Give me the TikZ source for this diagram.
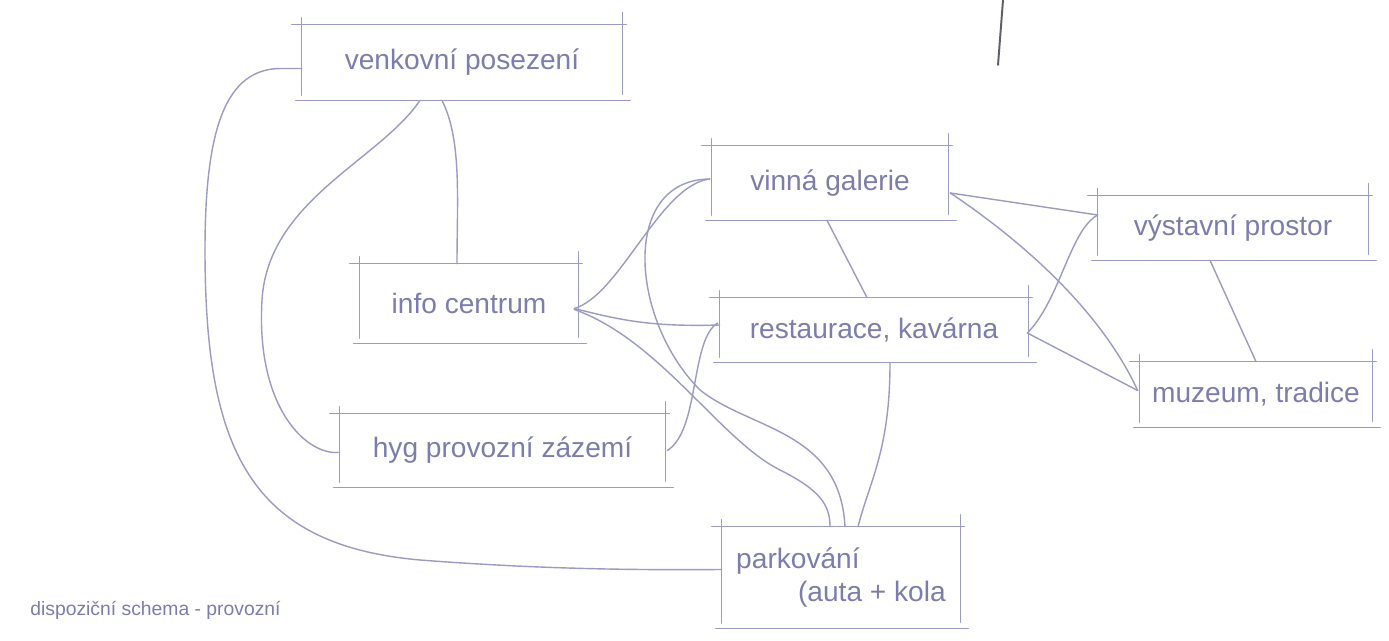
\documentclass[tikz,border=0pt]{standalone}
\usepackage{fontspec}
\setmainfont{Liberation Sans}
\usetikzlibrary{calc}
\definecolor{skl}{RGB}{155,155,196}
\definecolor{skt}{RGB}{125,125,172}
\definecolor{pen}{RGB}{95,95,105}
\tikzset{
  skline/.style={draw=skl, line width=0.8pt, line cap=round},
  skbox/.style={draw=none, inner sep=0pt, text=skt, font=\fontsize{16}{19}\selectfont},
  caption/.style={text=skt, font=\fontsize{11}{13}\selectfont, inner sep=0pt, anchor=west}
}
\newcommand\sketchrect[1]{%
  \draw[skline] ($(#1.north west)+(-10,0)$) -- ($(#1.north east)+(4,0)$);
  \draw[skline] ($(#1.south west)+(-6,0)$) -- ($(#1.south east)+(8,0)$);
  \draw[skline] ($(#1.north west)+(0,-7)$) -- ($(#1.south west)+(0,-5)$);
  \draw[skline] ($(#1.north east)+(0,-12)$) -- ($(#1.south east)+(0,-6)$);
}
\begin{document}
\begin{tikzpicture}[x=0.02cm,y=-0.02cm]
\useasboundingbox[fill=white] (0,0) rectangle (1389,641);

\node[skbox, minimum width=320*0.02cm, minimum height=75*0.02cm] (ven) at (462,62.5) {venkovní posezení};
\node[skbox, minimum width=218*0.02cm, minimum height=79*0.02cm] (inf) at (469,303.5) {info centrum};
\node[skbox, minimum width=325*0.02cm, minimum height=73*0.02cm] (hyg) at (502.5,450.5) {hyg provozní zázemí};
\node[skbox, minimum width=236*0.02cm, minimum height=74*0.02cm] (vin) at (830,183) {vinná galerie};
\node[skbox, minimum width=308*0.02cm, minimum height=64*0.02cm] (res) at (874,330) {restaurace, kavárna};
\node[skbox, minimum width=270*0.02cm, minimum height=64*0.02cm] (vys) at (1233,228) {výstavní prostor};
\node[skbox, minimum width=232*0.02cm, minimum height=65*0.02cm] (muz) at (1256,394.5) {muzeum, tradice};
\node[skbox, minimum width=238*0.02cm, minimum height=101*0.02cm, align=left] (par) at (841,577.5) {parkování\\\hspace*{2.2em}(auta + kola};

\foreach \b in {ven,inf,hyg,vin,res,vys,muz,par} {\sketchrect{\b}}

\node[caption] (cap) at (30,610) {dispoziční schema - provozní};

\coordinate (st1) at (1003,0);
\coordinate (st2) at (998,65);
\draw[draw=pen, line width=1.1pt, line cap=round] (st1) -- (st2);

% connectors
\draw[skline] ($(ven.west)+(0,6)$) -- ($(ven.west)+(-20,6)$) .. controls (225,68) and (205,130) .. (205,250)
  .. controls (205,450) and (250,545) .. (420,560) .. controls (550,570) and (650,570) .. ($(par.west)+(0,-8)$);
\draw[skline] ($(ven.south)+(-42,0)$) .. controls (380,160) and (268,200) .. (262,300)
  .. controls (256,400) and (300,450) .. ($(hyg.west)+(-6,2)$) -- ($(hyg.west)+(0,2)$);
\draw[skline] ($(ven.south)+(-20,0)$) .. controls (462,140) and (457,200) .. ($(inf.north)+(-12,0)$);

\draw[skline] ($(inf.east)+(-4,5)$) .. controls (620,295) and (660,185) .. ($(vin.west)+(-2,-4)$);
\draw[skline] ($(inf.east)+(-4,5)$) .. controls (620,320) and (650,327) .. ($(res.west)+(0,-5)$);
\draw[skline] ($(inf.east)+(-4,6)$) .. controls (660,340) and (720,440) .. (780,470)
  .. controls (820,490) and (830,505) .. ($(par.north)+(-11,0)$);
\draw[skline] ($(vin.west)+(-2,-4)$) .. controls (620,180) and (630,320) .. (700,390)
  .. controls (750,430) and (840,430) .. ($(par.north)+(4,0)$);
\draw[skline] ($(hyg.east)+(2,0)$) .. controls (700,430) and (690,340) .. ($(res.west)+(-2,-7)$);

\draw[skline] ($(vin.south)+(-3,0)$) -- ($(res.north)+(-7,0)$);
\draw[skline] ($(res.south)+(16,0)$) .. controls (890,450) and (870,480) .. ($(par.north)+(17,0)$);

\draw[skline] ($(vin.east)+(2,10)$) -- ($(vys.west)+(0,-13)$);
\draw[skline] ($(vin.east)+(2,10)$) .. controls (1050,260) and (1110,330) .. ($(muz.west)+(-2,-4)$);
\draw[skline] ($(res.east)+(-1,3)$) .. controls (1060,300) and (1070,230) .. ($(vys.west)+(0,-13)$);
\draw[skline] ($(res.east)+(-1,3)$) -- ($(muz.west)+(-2,-4)$);
\draw[skline] ($(vys.south)+(-23,0)$) -- ($(muz.north)+(0,0)$);
\end{tikzpicture}
\end{document}
